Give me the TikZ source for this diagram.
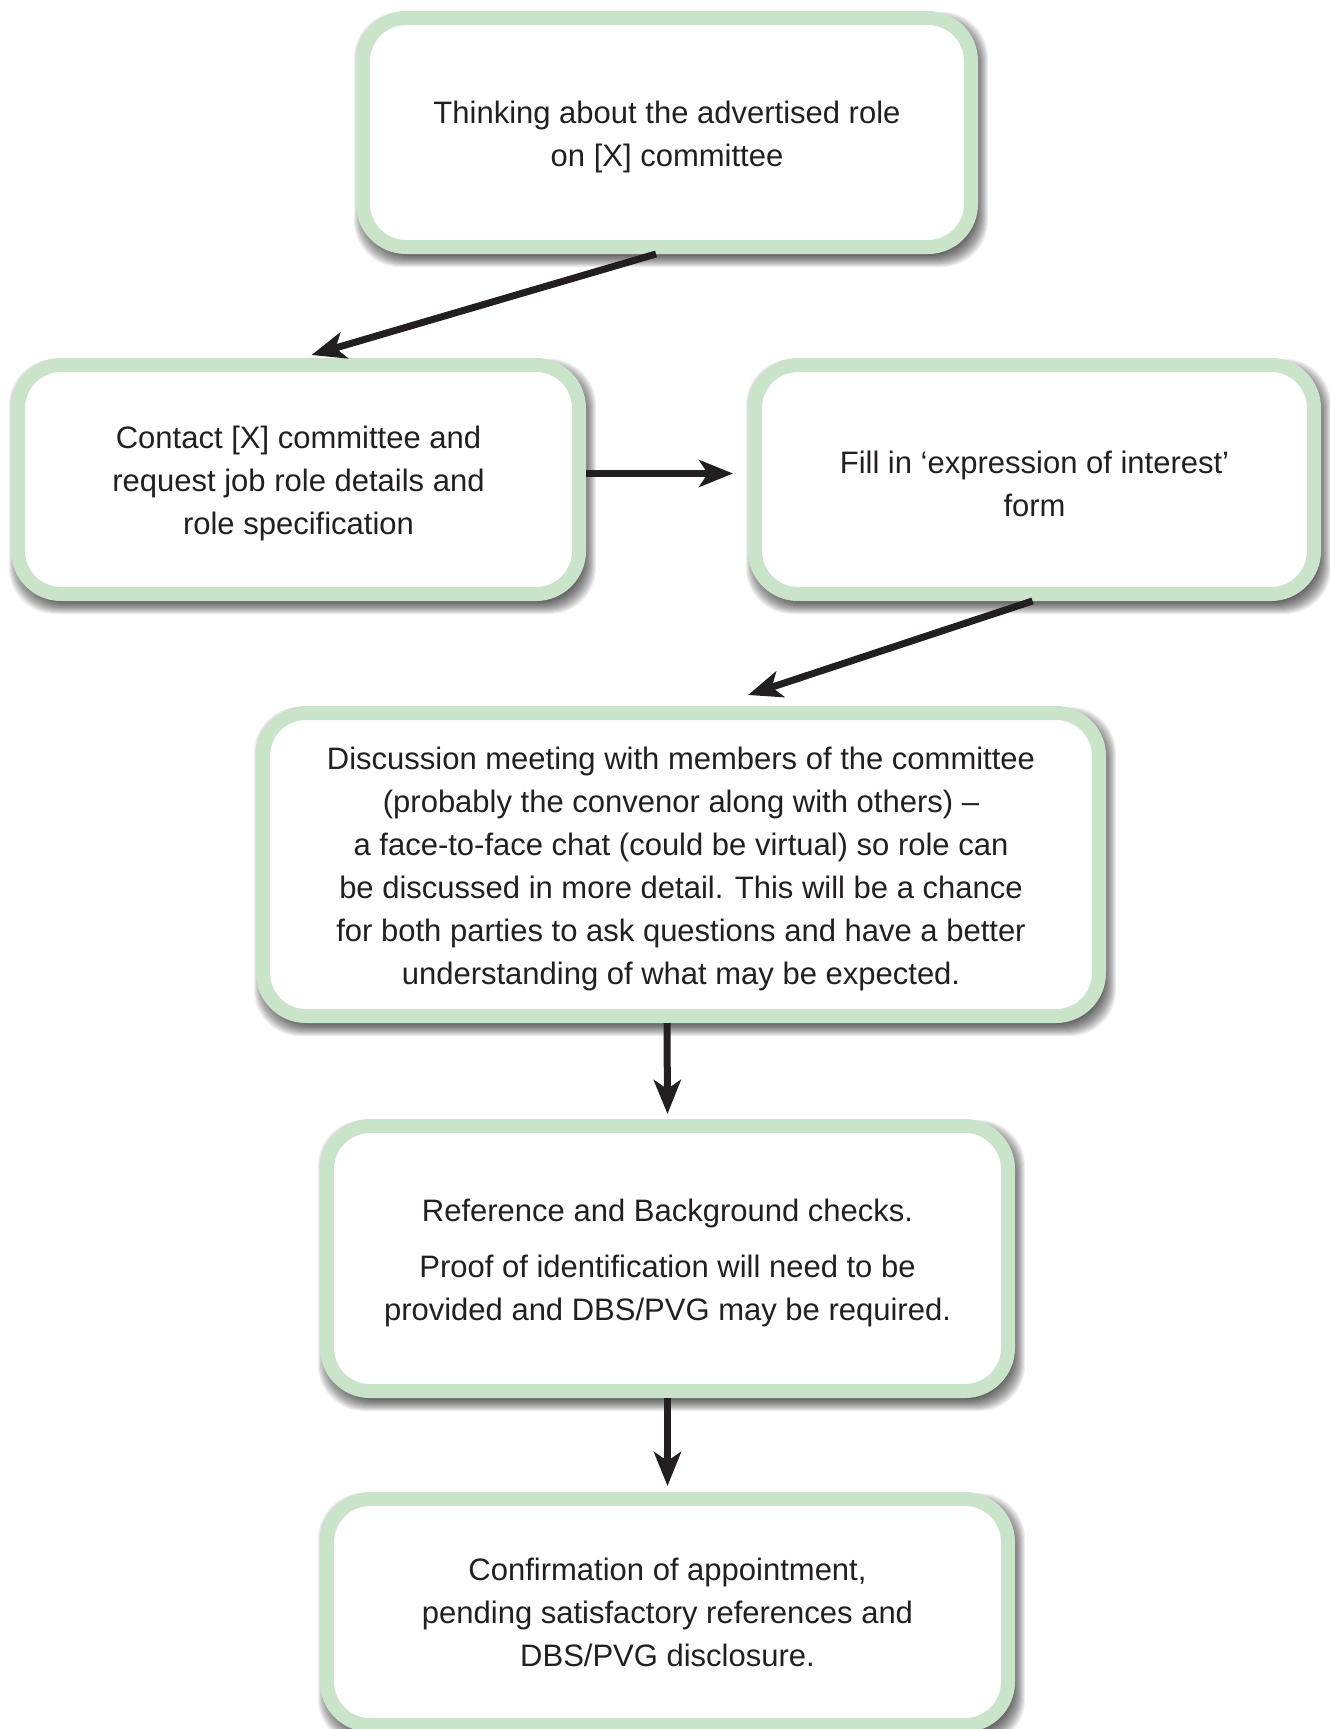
\documentclass[tikz,border=0pt]{standalone}
\usepackage{fontspec}
\setmainfont{Liberation Sans}
\usetikzlibrary{calc,arrows.meta,backgrounds}
\definecolor{boxgreen}{RGB}{201,228,201}
\definecolor{ink}{RGB}{35,31,32}
\newcommand\boxshadow[1]{%
  \foreach \k in {0,...,12}{%
    \pgfmathsetmacro\ee{6-\k}%
    \fill[black, opacity=0.065, rounded corners=46pt]
      ($(#1.north west)+(4-\ee,7-\ee)$) rectangle ($(#1.south east)+(4+\ee,7+\ee)$);
  }}
\newcommand\topstrut{\rule{0pt}{31pt}}
\begin{document}
\begin{tikzpicture}[x=1pt,y=-1pt,
  stepbox/.style={draw=boxgreen, line width=14pt, fill=white, rounded corners=43pt,
    align=center, inner sep=0pt, font=\fontsize{31}{43}\selectfont, text=ink},
  conn/.style={draw=ink, line width=7pt, -{Stealth[length=34pt,width=27pt,inset=9pt]}}]
\useasboundingbox (0,0) rectangle (1330,1729);
\node[stepbox, minimum width=608pt, minimum height=229pt] (b1) at (667,132.5)
  {\topstrut Thinking about the advertised role\\on [X] committee};
\node[stepbox, minimum width=561pt, minimum height=229pt] (b2) at (298.5,479.5)
  {\topstrut Contact [X] committee and\\request job role details and\\role specification};
\node[stepbox, minimum width=559pt, minimum height=229pt] (b3) at (1034.5,479.5)
  {\topstrut Fill in ‘expression of interest’\\form};
\node[stepbox, minimum width=836pt, minimum height=303pt] (b4) at (681,864.5)
  {\topstrut Discussion meeting with members of the committee\\
   (probably the convenor along with others) –\\
   a face-to-face chat (could be virtual) so role can\\
   be discussed in more detail. This will be a chance\\
   for both parties to ask questions and have a better\\
   understanding of what may be expected.};
\node[stepbox, minimum width=681pt, minimum height=265pt] (b5) at (667.5,1258.5)
  {\topstrut Reference and Background checks.\\[13pt]
   Proof of identification will need to be\\
   provided and DBS/PVG may be required.};
\node[stepbox, minimum width=681pt, minimum height=226pt] (b6) at (667.5,1612)
  {Confirmation of appointment,\\pending satisfactory references and\\DBS/PVG disclosure.};
\begin{scope}[on background layer]
  \boxshadow{b1}\boxshadow{b2}\boxshadow{b3}\boxshadow{b4}\boxshadow{b5}\boxshadow{b6}
\end{scope}
\draw[conn] ($(b1.south)+(-11,0)$) -- ($(b2.north)+(13,-3)$);
\draw[conn] ($(b2.east)+(0,-6)$) -- ($(b3.west)+(-15,-6)$);
\draw[conn] ($(b3.south)+(-2,0)$) -- ($(b4.north)+(67,-11)$);
\draw[conn] ($(b4.south)+(-14,0)$) -- ($(b5.north)+(0,-5)$);
\draw[conn] (b5.south) -- ($(b6.north)+(0,-6)$);
\end{tikzpicture}
\end{document}
